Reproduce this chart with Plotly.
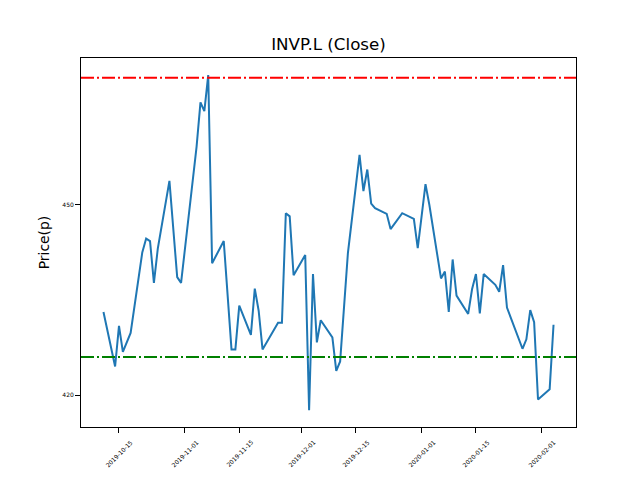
import plotly.graph_objects as go

dates = [
    "2019-10-11", "2019-10-14", "2019-10-15", "2019-10-16", "2019-10-18",
    "2019-10-21", "2019-10-22", "2019-10-23", "2019-10-24", "2019-10-25",
    "2019-10-28", "2019-10-30", "2019-10-31", "2019-11-04", "2019-11-05",
    "2019-11-06", "2019-11-07", "2019-11-08", "2019-11-11", "2019-11-13",
    "2019-11-14", "2019-11-15", "2019-11-18", "2019-11-19", "2019-11-20",
    "2019-11-21", "2019-11-25", "2019-11-26", "2019-11-27", "2019-11-28",
    "2019-11-29", "2019-12-02", "2019-12-03", "2019-12-04", "2019-12-05",
    "2019-12-06", "2019-12-09", "2019-12-10", "2019-12-11", "2019-12-13",
    "2019-12-16", "2019-12-17", "2019-12-18", "2019-12-19", "2019-12-20",
    "2019-12-23", "2019-12-24", "2019-12-27", "2019-12-30", "2019-12-31",
    "2020-01-02", "2020-01-03", "2020-01-06", "2020-01-07", "2020-01-08",
    "2020-01-09", "2020-01-10", "2020-01-13", "2020-01-14", "2020-01-15",
    "2020-01-16", "2020-01-17", "2020-01-20", "2020-01-21", "2020-01-22",
    "2020-01-23", "2020-01-27", "2020-01-28", "2020-01-29", "2020-01-30",
    "2020-01-31", "2020-02-03", "2020-02-04",
]
close = [
    433.1, 424.5, 430.9, 426.8, 429.8,
    442.5, 444.7, 444.3, 437.7, 443.1,
    453.8, 438.6, 437.7, 459.2, 466.2,
    464.8, 470.5, 440.8, 444.3, 427.2,
    427.2, 434.1, 429.5, 436.8, 433.3,
    427.2, 431.4, 431.4, 448.7, 448.2,
    438.9, 442.1, 417.6, 439.1, 428.3,
    431.8, 429.1, 423.8, 425.3, 442.4,
    457.9, 452.2, 455.6, 450.2, 449.5,
    448.6, 446.2, 448.7, 447.8, 443.2,
    453.3, 450.0, 438.4, 439.5, 433.1,
    441.4, 435.7, 432.8, 436.7, 439.1,
    432.9, 439.1, 437.4, 436.3, 440.5,
    433.8, 427.3, 428.8, 433.4, 431.5,
    419.3, 420.9, 431.1,
]
upper_level = 470.1
lower_level = 426.0

x_tick_dates = ["2019-10-15", "2019-11-01", "2019-11-15", "2019-12-01",
                "2019-12-15", "2020-01-01", "2020-01-15", "2020-02-01"]
y_tick_vals = [420, 450]

title_text = "INVP.L (Close)"
y_label = "Price(p)"

FONT = "DejaVu Sans, Liberation Sans, sans-serif"

fig = go.Figure()
fig.add_trace(go.Scatter(
    x=dates, y=close, mode="lines",
    line=dict(color="#1f77b4", width=2), showlegend=False,
))

dash = "13px,3px,2px,3px"
fig.add_shape(type="line", xref="paper", yref="y", x0=0, x1=1,
              y0=upper_level, y1=upper_level,
              line=dict(color="#ff0000", width=2, dash=dash))
fig.add_shape(type="line", xref="paper", yref="y", x0=0, x1=1,
              y0=lower_level, y1=lower_level,
              line=dict(color="#008000", width=2, dash=dash))

for d in x_tick_dates:
    fig.add_annotation(x=d, xref="x", y=-0.0705, yref="paper",
                       text=d, textangle=-45, showarrow=False,
                       xanchor="center", yanchor="middle",
                       font=dict(family=FONT, size=6, color="#000000"))

fig.update_layout(
    width=640, height=480,
    margin=dict(l=73, r=72, t=50, b=61, autoexpand=False),
    paper_bgcolor="white", plot_bgcolor="white",
    font=dict(family=FONT, color="#000000"),
    title=dict(text=title_text, x=0.5, xref="paper", y=1 - 36 / 480,
               yref="container", xanchor="center", yanchor="middle",
               font=dict(family=FONT, size=16.7, color="#000000")),
)
fig.update_xaxes(
    type="date",
    range=["2019-10-05 05:00", "2020-02-09 19:00"],
    tickvals=x_tick_dates, showticklabels=False,
    ticks="outside", ticklen=5, tickwidth=1, tickcolor="black",
    showline=True, linecolor="black", linewidth=1, mirror=True,
    showgrid=False, zeroline=False,
)
fig.update_yaxes(
    range=[414.95, 473.2],
    tickvals=y_tick_vals, ticktext=[str(v) for v in y_tick_vals],
    tickfont=dict(family=FONT, size=6, color="#000000"),
    ticks="outside", ticklen=5, tickwidth=1, tickcolor="black",
    showline=True, linecolor="black", linewidth=1, mirror=True,
    showgrid=False, zeroline=False,
    title=dict(text=y_label, standoff=9,
               font=dict(family=FONT, size=13.9, color="#000000")),
)

fig.write_html("out.html")
